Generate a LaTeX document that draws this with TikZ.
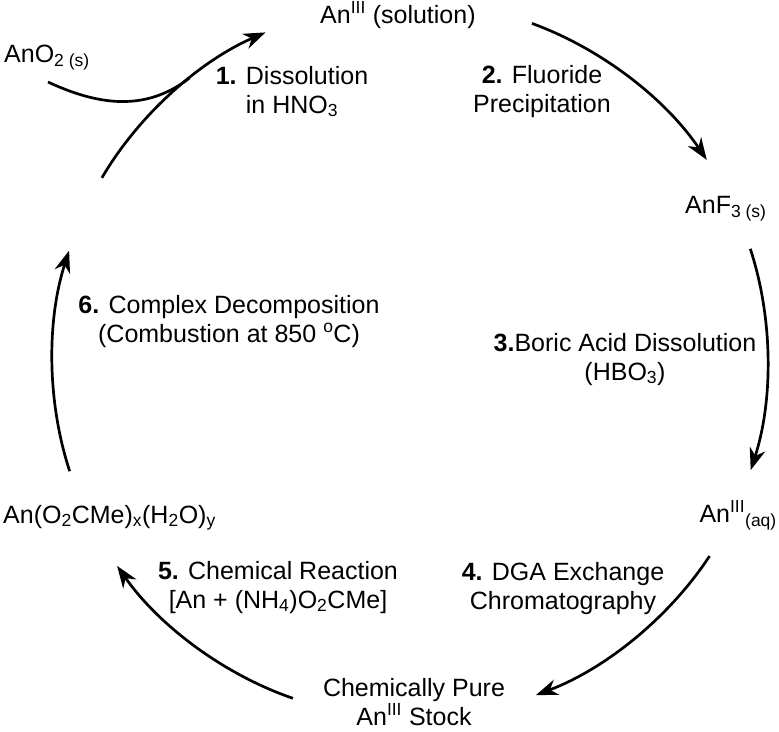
\documentclass[tikz,border=0pt]{standalone}
\usepackage{fontspec}
\setmainfont{Liberation Sans}
\usetikzlibrary{arrows.meta}

\begin{document}
\begin{tikzpicture}[x=1pt, y=-1pt]
    \tikzstyle{species} = [inner sep=0pt, anchor=base west, font=\fontsize{25}{29}\selectfont]
    \tikzstyle{steplabel} = [inner sep=0pt, anchor=base, align=center, font=\fontsize{25}{29}\selectfont]
    \tikzstyle{cycarrow} = [line width=2.7pt, -{Stealth[length=22pt, width=16pt, inset=7pt]}, bend left=18, looseness=0.85]

    \useasboundingbox (0,0) rectangle (779,731);

    % Species round the cycle
    \node[species] (sol) at (320,23) {An\textsuperscript{III} (solution)};
    \node[species] (ano2) at (4,62) {AnO\textsubscript{2 (s)}};
    \node[species] (anf3) at (685,213) {AnF\textsubscript{3 (s)}};
    \node[species, anchor=base east] (anaq) at (777,522) {An\textsuperscript{III}\textsubscript{(aq)}};
    \node[species] (anac) at (3,523) {An(O\textsubscript{2}CMe)\textsubscript{x}(H\textsubscript{2}O)\textsubscript{y}};
    \node[steplabel] (pure) at (414,725) {Chemically Pure\\An\textsuperscript{III} Stock};

    % Step labels (base = last line)
    \node[steplabel] (lab1) at (292,113) {\textbf{1.} Dissolution\\in HNO\textsubscript{3}};
    \node[steplabel] (lab2) at (542,112) {\textbf{2.} Fluoride\\Precipitation};
    \node[steplabel] (lab3) at (625,380) {\textbf{3.}Boric Acid Dissolution\\(HBO\textsubscript{3})};
    \node[steplabel] (lab4) at (563,609) {\textbf{4.} DGA Exchange\\Chromatography};
    \node[steplabel] (lab5) at (278,608) {\textbf{5.} Chemical Reaction\\{[}An + (NH\textsubscript{4})O\textsubscript{2}CMe{]}};
    \node[steplabel] (lab6) at (229,342) {\textbf{6.} Complex Decomposition\\(Combustion at 850 \textsuperscript{o}C)};

    % Arrow ends on the circle
    \coordinate (s1) at (101.9,177.8); \coordinate (e1) at (265.5,32.4);
    \coordinate (s2) at (531.9,23.4);  \coordinate (e2) at (706.8,159.9);
    \coordinate (s3) at (750.3,248.8); \coordinate (e3) at (750.7,470.1);
    \coordinate (s4) at (709.6,556.0); \coordinate (e4) at (535.9,695.1);
    \coordinate (s5) at (292.9,698.3); \coordinate (e5) at (117.1,565.9);
    \coordinate (s6) at (69.7,471.2);  \coordinate (e6) at (69.1,250.6);
    \coordinate (o1) at (48,82);       \coordinate (j1) at (189.6,77.9);

    % The cycle
    \foreach \i in {1,...,6} \draw[cycarrow] (s\i) to (e\i);
    \draw[line width=2.7pt] (o1) to[out=-25, in=218] (j1);

\end{tikzpicture}
\end{document}
